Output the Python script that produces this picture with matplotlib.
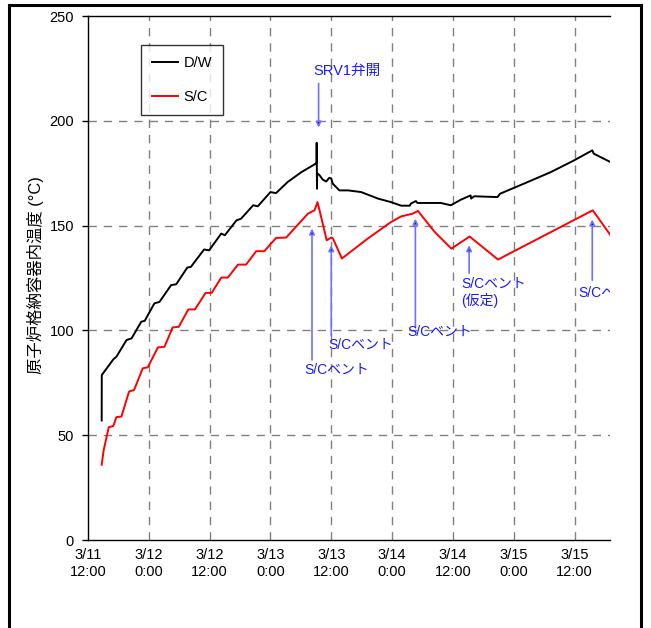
import matplotlib
matplotlib.use("Agg")
import matplotlib.pyplot as plt
from matplotlib.lines import Line2D

plt.rcParams['font.family'] = ['Liberation Sans', 'Noto Sans CJK JP', 'DejaVu Sans']

# hours since 3/11 12:00
dw_hours = [2.7, 2.72, 5.0, 5.6, 7.6, 8.6, 10.5, 11.2, 13.1, 14.1, 16.4, 17.4, 19.6, 20.3,
            22.9, 23.9, 26.3, 27.0, 29.3, 30.2, 32.6, 33.5, 36.0, 37.1, 39.4, 42.1, 44.7,
            45.1, 45.12, 45.15, 45.18, 45.22, 45.7, 46.3, 47.0, 47.6, 48.0, 48.3, 49.6,
            51.3, 53.9, 57.2, 59.8, 61.8, 63.5, 63.7, 64.7, 65.0, 69.6, 71.6, 73.6, 75.5,
            75.6, 76.2, 80.8, 81.3, 86.0, 91.3, 95.9, 99.5, 99.8, 103.1]
dw_temp = [57.0, 78.7, 86.2, 87.4, 95.4, 96.2, 104.1, 104.6, 112.9, 113.6, 121.6, 122.0, 130.0, 130.3,
           138.6, 138.2, 146.2, 145.4, 152.5, 153.3, 159.7, 159.2, 166.0, 165.5, 170.8, 175.5, 179.2,
           180.0, 189.5, 180.0, 167.6, 175.0, 174.0, 172.0, 171.0, 172.8, 172.5, 170.0, 166.8,
           166.8, 166.0, 162.9, 161.2, 159.5, 159.5, 160.5, 161.7, 160.8, 160.8, 159.7, 162.4, 164.4,
           162.9, 164.0, 163.6, 165.2, 170.0, 175.5, 181.1, 185.9, 184.3, 180.3]

sc_hours = [2.7, 3.1, 4.1, 5.0, 5.6, 6.6, 8.1, 9.1, 10.8, 11.8, 13.8, 15.1, 16.7, 17.9, 19.8, 21.1,
            23.2, 24.4, 26.3, 27.6, 29.6, 31.2, 33.2, 34.8, 37.1, 39.1, 43.4, 44.7, 45.3, 47.1,
            48.0, 48.3, 50.1, 55.2, 59.8, 61.8, 64.1, 65.1, 68.4, 71.7, 75.3, 80.9, 99.6, 103.1]
sc_temp = [35.9, 43.0, 53.8, 54.4, 58.6, 58.9, 70.8, 71.6, 81.9, 82.4, 91.9, 92.2, 101.4, 101.7, 110.0, 110.0,
           117.9, 117.9, 125.2, 125.2, 131.4, 131.4, 137.8, 137.8, 144.1, 144.3, 155.7, 157.3, 161.2, 143.0,
           144.3, 144.0, 134.3, 143.8, 151.7, 154.4, 155.7, 157.0, 147.0, 139.0, 144.8, 133.8, 157.3, 145.4]

tick_hours = [0, 12, 24, 36, 48, 60, 72, 84, 96]
tick_labels = ["3/11\n12:00", "3/12\n0:00", "3/12\n12:00", "3/13\n0:00", "3/13\n12:00",
               "3/14\n0:00", "3/14\n12:00", "3/15\n0:00", "3/15\n12:00"]
y_ticks = [0, 50, 100, 150, 200, 250]

# annotations: (arrow x, arrow tip y, arrow tail y)
vent_arrows = [(44.2, 148.6, 85.9), (48.0, 140.6, 97.5), (64.6, 153.3, 101.6),
               (75.2, 140.6, 127.3), (99.5, 152.9, 123.9)]
vent_texts = [(42.65, 81.1, "S/Cベント"), (47.4, 93.0, "S/Cベント"), (63.1, 99.4, "S/Cベント"),
              (73.6, 118.2, "S/Cベント\n(仮定)"), (96.8, 117.8, "S/Cベント")]
srv_arrow = (45.5, 196.8, 217.8)
srv_text = (51.1, 224.0, "SRV1弁開")

fig = plt.figure(figsize=(6.51, 6.28), dpi=100)
ax = fig.add_axes([88/651, 1-540/628, 522/651, 524/628])

ax.plot(dw_hours, dw_temp, color='black', lw=1.4, label='D/W', zorder=3)
ax.plot(sc_hours, sc_temp, color='#ff0000', lw=1.4, label='S/C', zorder=3)

ax.set_xlim(0, 103)
ax.set_ylim(0, 250)
ax.set_xticks(tick_hours)
ax.set_xticklabels(tick_labels, fontsize=10.5, linespacing=1.25)
ax.set_yticks(y_ticks)
ax.tick_params(axis='y', labelsize=10.5, length=4, width=1, direction='out', pad=6)
ax.tick_params(axis='x', length=0, pad=6)

for h in tick_hours[1:]:
    ax.axvline(h, color='#808080', lw=1, dashes=(6, 5), zorder=1)
for v in y_ticks[1:-1]:
    ax.axhline(v, color='#808080', lw=1, dashes=(6, 5), zorder=1)

ax.spines['right'].set_visible(False)
for s in ['left', 'bottom', 'top']:
    ax.spines[s].set_linewidth(1.0)
    ax.spines[s].set_color('black')

blue = '#1a1aff'
for (x, tip, tail) in vent_arrows + [srv_arrow]:
    ax.annotate('', xy=(x, tip), xytext=(x, tail),
                arrowprops=dict(arrowstyle='-|>', color='#7070ff', lw=1.2,
                                mutation_scale=8, shrinkA=0, shrinkB=0,
                                fc='#0000cc', ec='#7070ff'), zorder=4)
for (x, y, t) in vent_texts:
    ax.text(x, y, t, color=blue, fontsize=10, ha='left', va='center',
            linespacing=1.25, clip_on=True, zorder=5)
ax.text(srv_text[0], srv_text[1], srv_text[2], color=blue, fontsize=10.5,
        ha='center', va='center', zorder=5)

leg = ax.legend(loc='upper left', bbox_to_anchor=((141-88)/522, (540-45)/524),
                borderaxespad=0, fontsize=10.5, frameon=True, fancybox=False,
                edgecolor='black', labelspacing=1.35, handlelength=1.8,
                handletextpad=0.35, borderpad=0.75)
leg.get_frame().set_linewidth(1.0)
leg.set_zorder(6)

fig.text(35/651, 1-275/628, "原子炉格納容器内温度 (°C)", rotation=90,
         ha='center', va='center', fontsize=11.8)

# outer frame
fig.add_artist(Line2D([9/651, 9/651], [0, 1-5/628], transform=fig.transFigure, color='black', lw=2.2))
fig.add_artist(Line2D([9/651, 641/651], [1-5/628, 1-5/628], transform=fig.transFigure, color='black', lw=2.2))
fig.add_artist(Line2D([641/651, 641/651], [1-5/628, 0], transform=fig.transFigure, color='black', lw=2.2))

fig.savefig("out.png", dpi=100)
